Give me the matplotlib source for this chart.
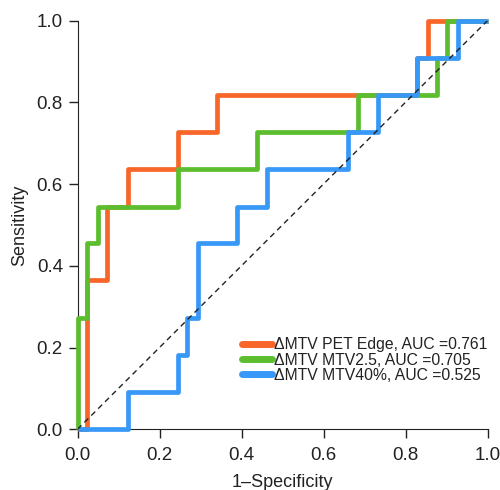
import matplotlib.pyplot as plt

plt.rcParams['font.family'] = ['Liberation Sans', 'DejaVu Sans']

# ROC step points (false positive rate, true positive rate)
fpr_edge = [0.0, 0.024, 0.024, 0.073, 0.073, 0.122, 0.122, 0.244, 0.244, 0.341, 0.341,
            0.829, 0.829, 0.854, 0.854, 1.0]
tpr_edge = [0.0, 0.0, 0.364, 0.364, 0.545, 0.545, 0.636, 0.636, 0.727, 0.727, 0.818,
            0.818, 0.909, 0.909, 1.0, 1.0]

fpr_25 = [0.0, 0.0, 0.024, 0.024, 0.049, 0.049, 0.244, 0.244, 0.439, 0.439, 0.683,
          0.683, 0.878, 0.878, 0.902, 0.902, 1.0]
tpr_25 = [0.0, 0.273, 0.273, 0.455, 0.455, 0.545, 0.545, 0.636, 0.636, 0.727, 0.727,
          0.818, 0.818, 0.909, 0.909, 1.0, 1.0]

fpr_40 = [0.0, 0.122, 0.122, 0.244, 0.244, 0.268, 0.268, 0.293, 0.293, 0.390, 0.390,
          0.463, 0.463, 0.659, 0.659, 0.732, 0.732, 0.829, 0.829, 0.927, 0.927, 1.0]
tpr_40 = [0.0, 0.0, 0.091, 0.091, 0.182, 0.182, 0.273, 0.273, 0.455, 0.455, 0.545,
          0.545, 0.636, 0.636, 0.727, 0.727, 0.818, 0.818, 0.909, 0.909, 1.0, 1.0]

labels = ["\u0394MTV PET Edge, AUC =0.761", "\u0394MTV MTV2.5, AUC =0.705",
          "\u0394MTV MTV40%, AUC =0.525"]
colors = ["#F8662A", "#5CBE2E", "#3898F8"]

fig = plt.figure(figsize=(5.0, 4.9), dpi=100)
ax = fig.add_axes([0.155, 0.124, 0.82, 0.834])

lw = 3.4
ax.plot(fpr_edge, tpr_edge, color=colors[0], lw=lw, label=labels[0],
        solid_capstyle='butt', clip_on=False, zorder=3)
ax.plot(fpr_25, tpr_25, color=colors[1], lw=lw, label=labels[1],
        solid_capstyle='butt', clip_on=False, zorder=4)
ax.plot(fpr_40, tpr_40, color=colors[2], lw=lw, label=labels[2],
        solid_capstyle='butt', clip_on=False, zorder=5)
ax.plot([0, 1], [0, 1], color='#222222', lw=1, ls=(0, (4, 3)), zorder=6)

ax.set_xlim(0, 1)
ax.set_ylim(0, 1)
ax.set_xticks([0, 0.2, 0.4, 0.6, 0.8, 1.0])
ax.set_yticks([0, 0.2, 0.4, 0.6, 0.8, 1.0])
ax.set_xticklabels(["0.0", "0.2", "0.4", "0.6", "0.8", "1.0"])
ax.set_yticklabels(["0.0", "0.2", "0.4", "0.6", "0.8", "1.0"])
ax.spines['top'].set_visible(False)
ax.spines['right'].set_visible(False)
ax.spines['left'].set_color('#222222')
ax.spines['bottom'].set_color('#222222')
ax.tick_params(direction='out', length=6.5, width=1, pad=4, labelsize=13.5,
               colors='#222222')
ax.tick_params(axis='x', pad=6.5)
ax.set_xlabel("1\u2013Specificity", fontsize=13, labelpad=7, color='#222222')
ax.set_ylabel("Sensitivity", fontsize=13, labelpad=6, color='#222222')

leg = ax.legend(loc='lower right', bbox_to_anchor=(1.015, 0.098), frameon=False,
                fontsize=11.3, handlelength=1.9, handletextpad=0.15,
                labelspacing=0.02, borderaxespad=0)
for line in leg.get_lines():
    line.set_linewidth(5)
    line.set_solid_capstyle('round')
for t in leg.get_texts():
    t.set_color('#222222')

fig.savefig("out.png", dpi=100)
